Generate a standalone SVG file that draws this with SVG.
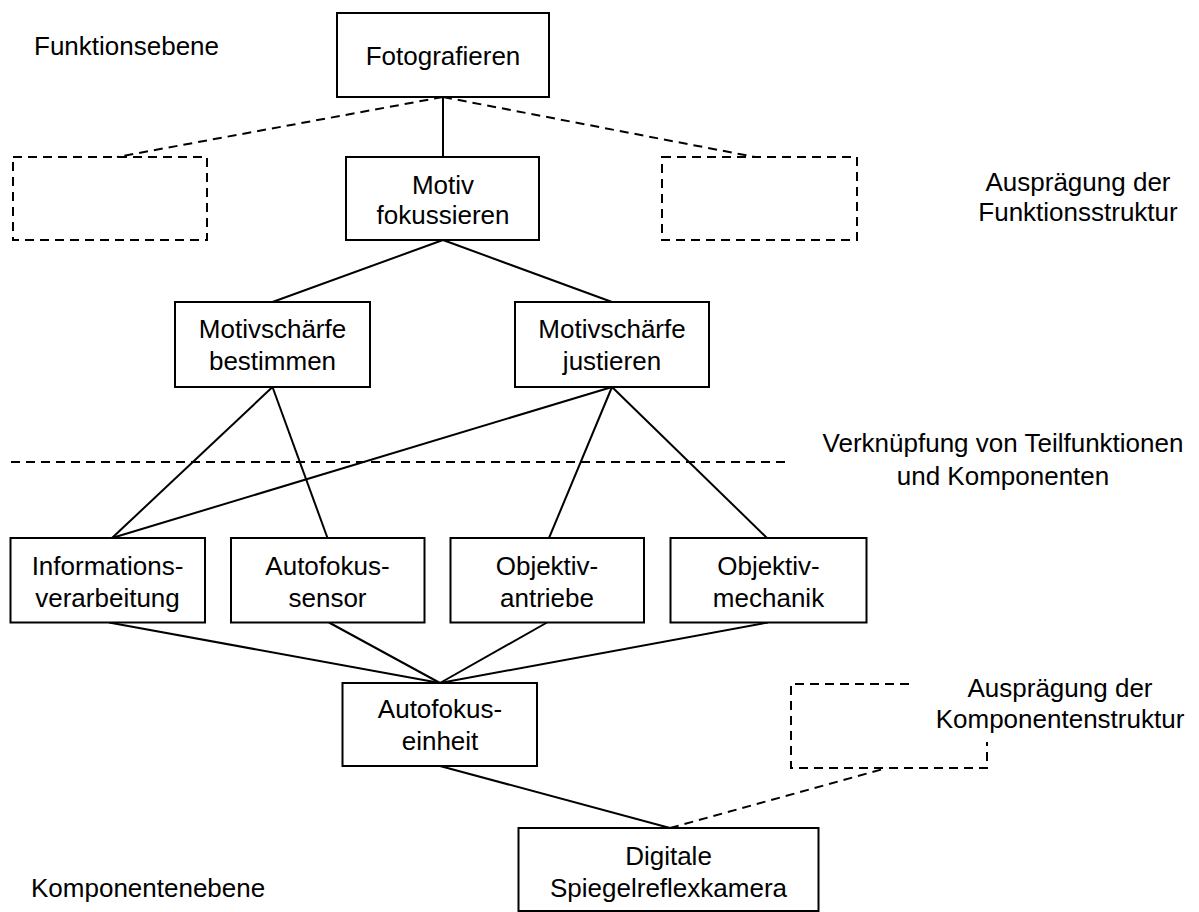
<svg xmlns="http://www.w3.org/2000/svg" width="1199" height="912" viewBox="0 0 1199 912">
  <style>
    text { font-family: "Liberation Sans", Arial, sans-serif; font-size: 26px; fill: #000; }
    .c { text-anchor: middle; }
    .box { fill: #fff; stroke: #000; stroke-width: 2; }
    .dbox { fill: none; stroke: #000; stroke-width: 2; stroke-dasharray: 9 6; }
    .ln { fill: none; stroke: #000; stroke-width: 2; }
    .dl { fill: none; stroke: #000; stroke-width: 2; stroke-dasharray: 9 6; }
  </style>
  <rect width="1199" height="912" fill="#fff"/>

  <!-- connectors -->
  <g id="connectors">
    <line class="ln" x1="443" y1="97" x2="443" y2="157"/>
    <line class="dl" x1="443" y1="97" x2="117" y2="157"/>
    <line class="dl" x1="443" y1="97" x2="755" y2="157"/>
    <line class="ln" x1="443" y1="240" x2="272.5" y2="302"/>
    <line class="ln" x1="443" y1="240" x2="612" y2="302"/>
    <line class="ln" x1="272.5" y1="387" x2="112" y2="538"/>
    <line class="ln" x1="272.5" y1="387" x2="327.5" y2="538"/>
    <line class="ln" x1="612" y1="387" x2="112" y2="538"/>
    <line class="ln" x1="612" y1="387" x2="549" y2="538"/>
    <line class="ln" x1="612" y1="387" x2="767" y2="538"/>
    <line class="dl" x1="11" y1="462" x2="789" y2="462"/>
    <line class="ln" x1="109" y1="622.5" x2="440" y2="683"/>
    <line class="ln" x1="329" y1="622.5" x2="440" y2="683"/>
    <line class="ln" x1="547" y1="622.5" x2="440" y2="683"/>
    <line class="ln" x1="768" y1="622.5" x2="440" y2="683"/>
    <line class="ln" x1="440" y1="766" x2="670" y2="828"/>
    <line class="dl" x1="670" y1="828" x2="887" y2="768"/>
    <path class="dl" d="M909,684 H791 V768 H987 V742"/>
  </g>

  <!-- level labels -->
  <g id="labels">
    <text x="34" y="55">Funktionsebene</text>
    <text x="31" y="897">Komponentenebene</text>
    <text class="c" x="1078" y="191">Ausprägung der</text>
    <text class="c" x="1078" y="221">Funktionsstruktur</text>
    <text class="c" x="1003" y="452">Verknüpfung von Teilfunktionen</text>
    <text class="c" x="1003" y="485">und Komponenten</text>
    <text class="c" x="1060" y="697">Ausprägung der</text>
    <text class="c" x="1060" y="728">Komponentenstruktur</text>
  </g>

  <!-- function level -->
  <g id="fotografieren">
    <rect class="box" x="337" y="13" width="212" height="84"/>
    <text class="c" x="443" y="65">Fotografieren</text>
  </g>
  <g id="funktion-links">
    <rect class="dbox" x="13" y="157" width="194" height="83"/>
  </g>
  <g id="motiv-fokussieren">
    <rect class="box" x="346" y="157" width="193" height="83"/>
    <text class="c" x="443" y="194">Motiv</text>
    <text class="c" x="443" y="224">fokussieren</text>
  </g>
  <g id="funktion-rechts">
    <rect class="dbox" x="662" y="157" width="195" height="83"/>
  </g>
  <g id="schaerfe-bestimmen">
    <rect class="box" x="175" y="302" width="195" height="85"/>
    <text class="c" x="272.5" y="338">Motivschärfe</text>
    <text class="c" x="272.5" y="370">bestimmen</text>
  </g>
  <g id="schaerfe-justieren">
    <rect class="box" x="515" y="302" width="194" height="85"/>
    <text class="c" x="612" y="338">Motivschärfe</text>
    <text class="c" x="612" y="370">justieren</text>
  </g>

  <!-- component level -->
  <g id="informationsverarbeitung">
    <rect class="box" x="10.5" y="538" width="194.5" height="84.5"/>
    <text class="c" x="107.5" y="575">Informations-</text>
    <text class="c" x="107.5" y="607">verarbeitung</text>
  </g>
  <g id="autofokussensor">
    <rect class="box" x="231" y="538" width="193.5" height="84.5"/>
    <text class="c" x="327.5" y="575">Autofokus-</text>
    <text class="c" x="327.5" y="607">sensor</text>
  </g>
  <g id="objektivantriebe">
    <rect class="box" x="450.5" y="538" width="193.5" height="84.5"/>
    <text class="c" x="547" y="575">Objektiv-</text>
    <text class="c" x="547" y="607">antriebe</text>
  </g>
  <g id="objektivmechanik">
    <rect class="box" x="670.5" y="538" width="196" height="84.5"/>
    <text class="c" x="768.5" y="575">Objektiv-</text>
    <text class="c" x="768.5" y="607">mechanik</text>
  </g>
  <g id="autofokuseinheit">
    <rect class="box" x="342.5" y="683" width="194.5" height="83"/>
    <text class="c" x="440" y="718">Autofokus-</text>
    <text class="c" x="440" y="750">einheit</text>
  </g>
  <g id="kamera">
    <rect class="box" x="518.5" y="828" width="300" height="83"/>
    <text class="c" x="668.5" y="865">Digitale</text>
    <text class="c" x="668.5" y="897">Spiegelreflexkamera</text>
  </g>
</svg>
